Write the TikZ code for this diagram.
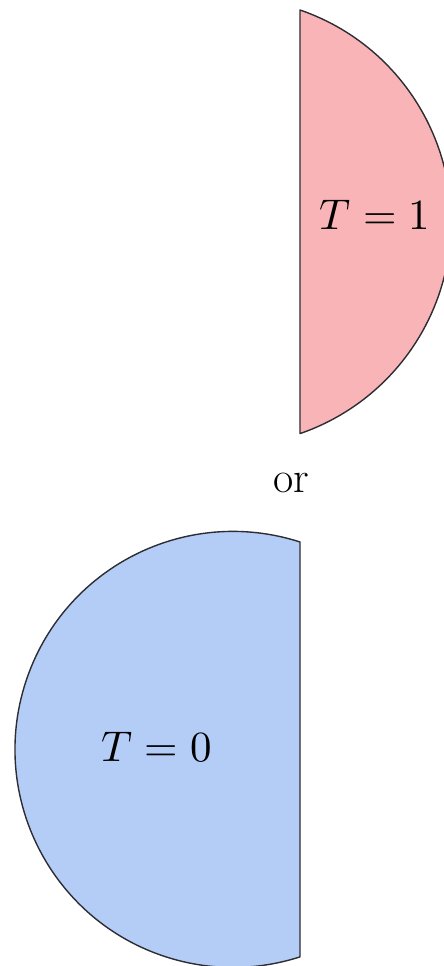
\documentclass[tikz,border=0pt]{standalone}
\usepackage{unicode-math}
\setmainfont{Latin Modern Roman}
\definecolor{pinkfill}{RGB}{249,180,183}
\definecolor{bluefill}{RGB}{180,205,247}
\definecolor{edgecol}{RGB}{45,45,50}
\begin{document}
\begin{tikzpicture}[x=1pt,y=1pt,
  halfdisc/.style={draw=edgecol,line width=1.4pt,line join=round},
  lbl/.style={font=\fontsize{43}{50}\selectfont,inner sep=0pt}]
\useasboundingbox (0,0) rectangle (444,966);
% top segment (T = 1)
\fill[pinkfill] (300,533) -- (300,956) arc[start angle=71, end angle=-71, radius=224] -- cycle;
\draw[halfdisc] (300,533) -- (300,956) arc[start angle=71, end angle=-71, radius=224] -- cycle;
\node[lbl,anchor=base] (t1) at (375,736) {$T=1$};
% or
\node[font=\fontsize{44}{50}\selectfont,inner sep=0pt] (or) at (291,483.5) {or};
% bottom segment (T = 0)
\fill[bluefill] (300,9) -- (300,424) arc[start angle=72.1, end angle=287.9, radius=218] -- cycle;
\draw[halfdisc] (300,9) -- (300,424) arc[start angle=72.1, end angle=287.9, radius=218] -- cycle;
\node[lbl,anchor=base] (t0) at (156.5,204) {$T=0$};
\end{tikzpicture}
\end{document}
